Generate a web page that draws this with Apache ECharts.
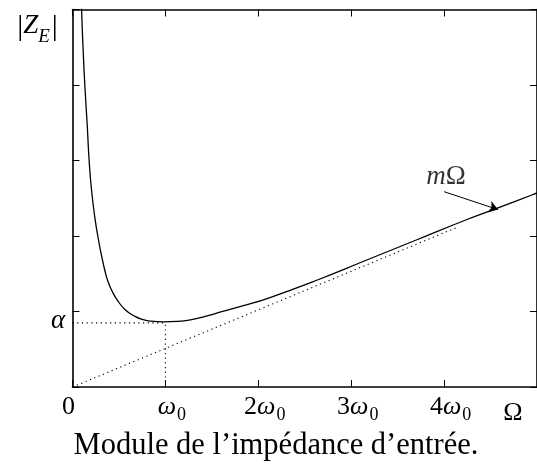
<!DOCTYPE html>
<html><head><meta charset="utf-8">
<script src="https://cdn.jsdelivr.net/npm/echarts@6/dist/echarts.min.js"></script>
<style>html,body{margin:0;padding:0;background:#fff}#c{width:537px;height:468px}</style>
</head><body><div id="c"></div>
<script>
// Curve |Z_E| versus Omega (units: x in omega0, y in tick units)
const curveX = [0.09, 0.098, 0.115, 0.135, 0.158, 0.179, 0.204, 0.24, 0.275, 0.311, 0.345, 0.381, 0.43, 0.488, 0.57, 0.666, 0.75, 0.843, 0.985, 1.12, 1.27, 1.43, 1.606, 1.85, 2.103, 2.636, 3.168, 3.701, 4.233, 4.588, 4.944, 5.0];
const curveY = [5.4, 5.0, 4.45, 3.95, 3.48, 3.0, 2.62, 2.25, 1.98, 1.75, 1.56, 1.40, 1.26, 1.14, 1.02, 0.94, 0.895, 0.872, 0.862, 0.868, 0.89, 0.935, 0.997, 1.08, 1.175, 1.417, 1.682, 1.947, 2.212, 2.375, 2.543, 2.57];
// asymptote m*Omega (dotted)
const asymX = [0, 4.15];
const asymY = [0, 2.12];
// minimum alpha at omega0
const omega0 = 1;
const alpha = 0.85;
// arrow to the asymptote label
const arrowX = [4.0, 4.58];
const arrowY = [2.587, 2.35];
const labelPos = [4.02, 2.78];
// tick labels
const xTickLabels = ['{z|0}{q| }', '{p| }{m|ω}{s|0}', '{p| }{n|2}{m|ω}{s|0}', '{p| }{n|3}{m|ω}{s|0}', '{p| }{n|4}{m|ω}{s|0}', ''];

const F = 'Liberation Serif';
const chart = echarts.init(document.getElementById('c'), null, {renderer: 'canvas'});
const black = '#000';
const zip = (a, b) => a.map((v, i) => [v, b[i]]);
const GL = 72.5, GT = 9.5, GW = 469.5, GH = 377.5;

const axisCommon = {
  type: 'value', min: 0, max: 5, interval: 1,
  axisLine: {show: true, onZero: false, lineStyle: {color: black, width: 1.6}},
  axisTick: {show: true, inside: true, length: 7, lineStyle: {color: black, width: 1}},
  splitLine: {show: false},
  axisLabel: {show: false}
};

const option = {
  backgroundColor: '#fff',
  animation: false,
  grid: {left: GL, top: GT, width: GW, height: GH, containLabel: false},
  xAxis: [
    Object.assign({}, axisCommon, {
      position: 'bottom',
      axisLabel: {
        show: true, margin: 7, showMaxLabel: false,
        formatter: v => xTickLabels[Math.round(v)] || '',
        rich: {
          z: {fontFamily: F, fontSize: 26, lineHeight: 27, verticalAlign: 'top', color: black},
          q: {width: 8, fontSize: 10, lineHeight: 27, verticalAlign: 'top'},
          p: {width: 13, fontSize: 10, lineHeight: 27, verticalAlign: 'top'},
          n: {fontFamily: F, fontSize: 26, lineHeight: 27, verticalAlign: 'top', color: black},
          m: {fontFamily: F, fontStyle: 'italic', fontSize: 26, lineHeight: 27, verticalAlign: 'top', color: black},
          s: {fontFamily: F, fontSize: 18, lineHeight: 18, padding: [12, 0, 0, 1], verticalAlign: 'top', color: black}
        }
      }
    }),
    Object.assign({}, axisCommon, {position: 'top'})
  ],
  yAxis: [
    Object.assign({}, axisCommon, {position: 'left'}),
    Object.assign({}, axisCommon, {position: 'right'})
  ],
  graphic: [
    {type: 'text', x: 37.5, y: 27, style: {
      text: '{b||}{i|Z}{e|E}{b||}', fill: black, fontFamily: F, fontSize: 26, align: 'center', verticalAlign: 'middle',
      rich: {
        b: {fontFamily: F, fontSize: 30, lineHeight: 30, verticalAlign: 'top', fill: black},
        i: {fontFamily: F, fontStyle: 'italic', fontSize: 27, lineHeight: 30, verticalAlign: 'top', fill: black},
        e: {fontFamily: F, fontStyle: 'italic', fontSize: 19, lineHeight: 19, padding: [15, 2, 0, 0], verticalAlign: 'top', fill: black}
      }}},
    {type: 'text', x: 58, y: 321, style: {text: 'α', fill: black, fontFamily: F, fontStyle: 'italic', fontSize: 27, align: 'center', verticalAlign: 'middle'}},
    {type: 'text', x: 513, y: 413, style: {text: 'Ω', fill: black, fontFamily: F, fontSize: 26, align: 'center', verticalAlign: 'middle'}},
    {type: 'text', x: 276, y: 446, style: {text: 'Module de l’impédance d’entrée.', fill: black, fontFamily: F, fontSize: 30.5, align: 'center', verticalAlign: 'middle'}}
  ],
  series: [
    {type: 'line', data: zip(curveX, curveY), smooth: 0.5, symbol: 'none', clip: true,
     lineStyle: {color: black, width: 1.3}},
    {type: 'line', data: zip(asymX, asymY), symbol: 'none', lineStyle: {color: black, width: 1.1, type: [1.2, 3.5]}},
    {type: 'line', data: [[0, alpha], [omega0, alpha]], symbol: 'none', lineStyle: {color: black, width: 1.1, type: [1.2, 3.5]}},
    {type: 'line', data: [[omega0, 0], [omega0, alpha]], symbol: 'none', lineStyle: {color: black, width: 1.1, type: [1.2, 3.5]}},
    {type: 'scatter', data: [labelPos], symbolSize: 0, silent: true,
     label: {show: true, position: 'inside', formatter: '{m|m}{o|Ω}',
       rich: {m: {fontFamily: F, fontStyle: 'italic', fontSize: 27, color: black}, o: {fontFamily: F, fontSize: 27, color: black}}},
     markLine: {silent: true, symbol: ['none', 'arrow'], symbolSize: 9, label: {show: false},
       lineStyle: {color: black, width: 1, type: 'solid'},
       data: [[{coord: [arrowX[0], arrowY[0]]}, {coord: [arrowX[1], arrowY[1]]}]]}}
  ]
};
chart.setOption(option);
</script>
</body></html>
